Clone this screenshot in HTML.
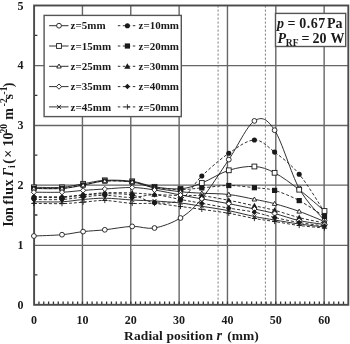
<!DOCTYPE html>
<html><head><meta charset="utf-8"><style>
html,body{margin:0;padding:0;background:#fff;width:350px;height:344px;overflow:hidden;font-family:"Liberation Serif",serif;}
svg{display:block;filter:grayscale(1);}
</style></head><body>
<svg width="350" height="344" viewBox="0 0 350 344"><line x1="82.44" y1="5.50" x2="82.44" y2="304.80" stroke="#666" stroke-width="1.4"/>
<line x1="130.78" y1="5.50" x2="130.78" y2="304.80" stroke="#666" stroke-width="1.4"/>
<line x1="179.12" y1="5.50" x2="179.12" y2="304.80" stroke="#666" stroke-width="1.4"/>
<line x1="227.46" y1="5.50" x2="227.46" y2="304.80" stroke="#666" stroke-width="1.4"/>
<line x1="275.80" y1="5.50" x2="275.80" y2="304.80" stroke="#666" stroke-width="1.4"/>
<line x1="324.14" y1="5.50" x2="324.14" y2="304.80" stroke="#666" stroke-width="1.4"/>
<line x1="34.10" y1="65.60" x2="348.31" y2="65.60" stroke="#666" stroke-width="1.4"/>
<line x1="34.10" y1="125.50" x2="348.31" y2="125.50" stroke="#666" stroke-width="1.4"/>
<line x1="34.10" y1="185.10" x2="348.31" y2="185.10" stroke="#666" stroke-width="1.4"/>
<line x1="34.10" y1="245.40" x2="348.31" y2="245.40" stroke="#666" stroke-width="1.4"/>
<line x1="218.10" y1="5.50" x2="218.10" y2="304.80" stroke="#777" stroke-width="0.9" stroke-dasharray="2.2,1.8"/>
<line x1="265.40" y1="5.50" x2="265.40" y2="304.80" stroke="#777" stroke-width="0.9" stroke-dasharray="2.2,1.8"/>
<path d="M38.93,304.80V301.50M43.77,304.80V301.50M48.60,304.80V301.50M53.44,304.80V301.50M58.27,304.80V301.50M63.10,304.80V301.50M67.94,304.80V301.50M72.77,304.80V301.50M77.61,304.80V301.50M82.44,304.80V301.50M87.27,304.80V301.50M92.11,304.80V301.50M96.94,304.80V301.50M101.78,304.80V301.50M106.61,304.80V301.50M111.44,304.80V301.50M116.28,304.80V301.50M121.11,304.80V301.50M125.95,304.80V301.50M130.78,304.80V301.50M135.61,304.80V301.50M140.45,304.80V301.50M145.28,304.80V301.50M150.12,304.80V301.50M154.95,304.80V301.50M159.78,304.80V301.50M164.62,304.80V301.50M169.45,304.80V301.50M174.29,304.80V301.50M179.12,304.80V301.50M183.95,304.80V301.50M188.79,304.80V301.50M193.62,304.80V301.50M198.46,304.80V301.50M203.29,304.80V301.50M208.12,304.80V301.50M212.96,304.80V301.50M217.79,304.80V301.50M222.63,304.80V301.50M227.46,304.80V301.50M232.29,304.80V301.50M237.13,304.80V301.50M241.96,304.80V301.50M246.80,304.80V301.50M251.63,304.80V301.50M256.46,304.80V301.50M261.30,304.80V301.50M266.13,304.80V301.50M270.97,304.80V301.50M275.80,304.80V301.50M280.63,304.80V301.50M285.47,304.80V301.50M290.30,304.80V301.50M295.14,304.80V301.50M299.97,304.80V301.50M304.80,304.80V301.50M309.64,304.80V301.50M314.47,304.80V301.50M319.31,304.80V301.50M324.14,304.80V301.50M328.97,304.80V301.50M333.81,304.80V301.50M338.64,304.80V301.50M343.48,304.80V301.50M34.10,274.87H37.40M34.10,215.01H37.40M34.10,155.15H37.40M34.10,95.29H37.40M34.10,35.43H37.40" stroke="#333" stroke-width="1.3"/>
<rect x="34.10" y="5.50" width="314.21" height="299.30" fill="none" stroke="#4a4a4a" stroke-width="1.9"/>
<path d="M33.90,236.00 C38.58,235.78 53.80,235.43 62.00,234.70 C70.20,233.97 75.97,232.42 83.10,231.60 C90.23,230.78 96.62,230.67 104.80,229.80 C112.98,228.93 123.92,226.70 132.20,226.40 C140.48,226.10 146.45,229.40 154.50,228.00 C162.55,226.60 172.62,222.90 180.50,218.00 C188.38,213.10 193.75,208.33 201.80,198.60 C209.85,188.87 220.03,172.55 228.80,159.60 C237.57,146.65 246.77,125.80 254.40,120.90 C262.03,116.00 267.13,118.93 274.60,130.20 C282.07,141.47 290.88,173.45 299.20,188.50 C307.52,203.55 320.28,215.17 324.50,220.50" fill="none" stroke="#1a1a1a" stroke-width="0.9"/>
<path d="M33.90,197.20 C38.58,197.25 53.80,197.83 62.00,197.50 C70.20,197.17 75.97,195.82 83.10,195.20 C90.23,194.58 96.62,193.83 104.80,193.80 C112.98,193.77 123.92,193.55 132.20,195.00 C140.48,196.45 146.45,201.72 154.50,202.50 C162.55,203.28 172.62,204.12 180.50,199.70 C188.38,195.28 193.75,183.73 201.80,176.00 C209.85,168.27 220.03,159.30 228.80,153.30 C237.57,147.30 246.77,140.20 254.40,140.00 C262.03,139.80 267.13,146.40 274.60,152.10 C282.07,157.80 290.88,164.22 299.20,174.20 C307.52,184.18 320.28,205.70 324.50,212.00" fill="none" stroke="#1a1a1a" stroke-width="0.9" stroke-dasharray="3,2"/>
<path d="M33.90,187.30 C38.58,187.30 53.80,187.88 62.00,187.30 C70.20,186.72 75.97,184.97 83.10,183.80 C90.23,182.63 96.62,180.72 104.80,180.30 C112.98,179.88 123.92,180.22 132.20,181.30 C140.48,182.38 146.45,185.55 154.50,186.80 C162.55,188.05 172.62,189.43 180.50,188.80 C188.38,188.17 193.75,186.08 201.80,183.00 C209.85,179.92 220.03,173.05 228.80,170.30 C237.57,167.55 246.77,166.08 254.40,166.50 C262.03,166.92 267.13,168.93 274.60,172.80 C282.07,176.67 290.88,183.33 299.20,189.70 C307.52,196.07 320.28,207.45 324.50,211.00" fill="none" stroke="#1a1a1a" stroke-width="0.9"/>
<path d="M33.90,188.30 C38.58,188.30 53.80,188.85 62.00,188.30 C70.20,187.75 75.97,186.22 83.10,185.00 C90.23,183.78 96.62,181.50 104.80,181.00 C112.98,180.50 123.92,180.92 132.20,182.00 C140.48,183.08 146.45,186.25 154.50,187.50 C162.55,188.75 172.62,189.43 180.50,189.50 C188.38,189.57 193.75,188.57 201.80,187.90 C209.85,187.23 220.03,185.53 228.80,185.50 C237.57,185.47 246.77,186.88 254.40,187.70 C262.03,188.52 267.13,188.25 274.60,190.40 C282.07,192.55 290.88,196.25 299.20,200.60 C307.52,204.95 320.28,213.85 324.50,216.50" fill="none" stroke="#1a1a1a" stroke-width="0.9" stroke-dasharray="3,2"/>
<path d="M33.90,188.50 C38.58,188.50 53.80,189.05 62.00,188.50 C70.20,187.95 75.97,186.45 83.10,185.20 C90.23,183.95 96.62,181.53 104.80,181.00 C112.98,180.47 123.92,180.83 132.20,182.00 C140.48,183.17 146.45,186.38 154.50,188.00 C162.55,189.62 172.62,190.83 180.50,191.70 C188.38,192.57 193.75,192.73 201.80,193.20 C209.85,193.67 220.03,193.48 228.80,194.50 C237.57,195.52 246.77,197.77 254.40,199.30 C262.03,200.83 267.13,201.68 274.60,203.70 C282.07,205.72 290.88,208.43 299.20,211.40 C307.52,214.37 320.28,219.82 324.50,221.50" fill="none" stroke="#1a1a1a" stroke-width="0.9"/>
<path d="M33.90,196.70 C38.58,196.70 53.80,197.02 62.00,196.70 C70.20,196.38 75.97,195.45 83.10,194.80 C90.23,194.15 96.62,193.10 104.80,192.80 C112.98,192.50 123.92,192.72 132.20,193.00 C140.48,193.28 146.45,194.08 154.50,194.50 C162.55,194.92 172.62,195.28 180.50,195.50 C188.38,195.72 193.75,195.00 201.80,195.80 C209.85,196.60 220.03,198.63 228.80,200.30 C237.57,201.97 246.77,204.13 254.40,205.80 C262.03,207.47 267.13,208.33 274.60,210.30 C282.07,212.27 290.88,215.48 299.20,217.60 C307.52,219.72 320.28,222.10 324.50,223.00" fill="none" stroke="#1a1a1a" stroke-width="0.9" stroke-dasharray="3,2"/>
<path d="M33.90,192.20 C38.58,192.20 53.80,192.50 62.00,192.20 C70.20,191.90 75.97,190.93 83.10,190.40 C90.23,189.87 96.62,189.48 104.80,189.00 C112.98,188.52 123.92,187.33 132.20,187.50 C140.48,187.67 146.45,188.75 154.50,190.00 C162.55,191.25 172.62,193.52 180.50,195.00 C188.38,196.48 193.75,197.45 201.80,198.90 C209.85,200.35 220.03,202.02 228.80,203.70 C237.57,205.38 246.77,207.37 254.40,209.00 C262.03,210.63 267.13,211.57 274.60,213.50 C282.07,215.43 290.88,218.77 299.20,220.60 C307.52,222.43 320.28,223.85 324.50,224.50" fill="none" stroke="#1a1a1a" stroke-width="0.9"/>
<path d="M33.90,199.50 C38.58,199.50 53.80,199.92 62.00,199.50 C70.20,199.08 75.97,197.70 83.10,197.00 C90.23,196.30 96.62,195.22 104.80,195.30 C112.98,195.38 123.92,197.58 132.20,197.50 C140.48,197.42 146.45,194.47 154.50,194.80 C162.55,195.13 172.62,198.08 180.50,199.50 C188.38,200.92 193.75,201.87 201.80,203.30 C209.85,204.73 220.03,206.62 228.80,208.10 C237.57,209.58 246.77,210.63 254.40,212.20 C262.03,213.77 267.13,215.78 274.60,217.50 C282.07,219.22 290.88,221.08 299.20,222.50 C307.52,223.92 320.28,225.42 324.50,226.00" fill="none" stroke="#1a1a1a" stroke-width="0.9" stroke-dasharray="3,2"/>
<path d="M33.90,201.80 C38.58,201.80 53.80,202.18 62.00,201.80 C70.20,201.42 75.97,200.10 83.10,199.50 C90.23,198.90 96.62,198.12 104.80,198.20 C112.98,198.28 123.92,199.53 132.20,200.00 C140.48,200.47 146.45,200.50 154.50,201.00 C162.55,201.50 172.62,202.12 180.50,203.00 C188.38,203.88 193.75,205.02 201.80,206.30 C209.85,207.58 220.03,209.00 228.80,210.70 C237.57,212.40 246.77,214.95 254.40,216.50 C262.03,218.05 267.13,218.75 274.60,220.00 C282.07,221.25 290.88,222.83 299.20,224.00 C307.52,225.17 320.28,226.50 324.50,227.00" fill="none" stroke="#1a1a1a" stroke-width="0.9"/>
<path d="M33.90,203.40 C38.58,203.43 53.80,203.80 62.00,203.60 C70.20,203.40 75.97,202.72 83.10,202.20 C90.23,201.68 96.62,200.30 104.80,200.50 C112.98,200.70 123.92,202.90 132.20,203.40 C140.48,203.90 146.45,202.98 154.50,203.50 C162.55,204.02 172.62,205.52 180.50,206.50 C188.38,207.48 193.75,208.27 201.80,209.40 C209.85,210.53 220.03,211.78 228.80,213.30 C237.57,214.82 246.77,217.13 254.40,218.50 C262.03,219.87 267.13,220.33 274.60,221.50 C282.07,222.67 290.88,224.42 299.20,225.50 C307.52,226.58 320.28,227.58 324.50,228.00" fill="none" stroke="#1a1a1a" stroke-width="0.9" stroke-dasharray="3,2"/>
<circle cx="33.90" cy="236.00" r="2.40" fill="#fff" stroke="#1a1a1a" stroke-width="0.9"/>
<circle cx="62.00" cy="234.70" r="2.40" fill="#fff" stroke="#1a1a1a" stroke-width="0.9"/>
<circle cx="83.10" cy="231.60" r="2.40" fill="#fff" stroke="#1a1a1a" stroke-width="0.9"/>
<circle cx="104.80" cy="229.80" r="2.40" fill="#fff" stroke="#1a1a1a" stroke-width="0.9"/>
<circle cx="132.20" cy="226.40" r="2.40" fill="#fff" stroke="#1a1a1a" stroke-width="0.9"/>
<circle cx="154.50" cy="228.00" r="2.40" fill="#fff" stroke="#1a1a1a" stroke-width="0.9"/>
<circle cx="180.50" cy="218.00" r="2.40" fill="#fff" stroke="#1a1a1a" stroke-width="0.9"/>
<circle cx="201.80" cy="198.60" r="2.40" fill="#fff" stroke="#1a1a1a" stroke-width="0.9"/>
<circle cx="228.80" cy="159.60" r="2.40" fill="#fff" stroke="#1a1a1a" stroke-width="0.9"/>
<circle cx="254.40" cy="120.90" r="2.40" fill="#fff" stroke="#1a1a1a" stroke-width="0.9"/>
<circle cx="274.60" cy="130.20" r="2.40" fill="#fff" stroke="#1a1a1a" stroke-width="0.9"/>
<circle cx="299.20" cy="188.50" r="2.40" fill="#fff" stroke="#1a1a1a" stroke-width="0.9"/>
<circle cx="324.50" cy="220.50" r="2.40" fill="#fff" stroke="#1a1a1a" stroke-width="0.9"/>
<circle cx="33.90" cy="197.20" r="2.55" fill="#1a1a1a"/>
<circle cx="62.00" cy="197.50" r="2.55" fill="#1a1a1a"/>
<circle cx="83.10" cy="195.20" r="2.55" fill="#1a1a1a"/>
<circle cx="104.80" cy="193.80" r="2.55" fill="#1a1a1a"/>
<circle cx="132.20" cy="195.00" r="2.55" fill="#1a1a1a"/>
<circle cx="154.50" cy="202.50" r="2.55" fill="#1a1a1a"/>
<circle cx="180.50" cy="199.70" r="2.55" fill="#1a1a1a"/>
<circle cx="201.80" cy="176.00" r="2.55" fill="#1a1a1a"/>
<circle cx="228.80" cy="153.30" r="2.55" fill="#1a1a1a"/>
<circle cx="254.40" cy="140.00" r="2.55" fill="#1a1a1a"/>
<circle cx="274.60" cy="152.10" r="2.55" fill="#1a1a1a"/>
<circle cx="299.20" cy="174.20" r="2.55" fill="#1a1a1a"/>
<circle cx="324.50" cy="212.00" r="2.55" fill="#1a1a1a"/>
<rect x="31.50" y="184.90" width="4.80" height="4.80" fill="#fff" stroke="#1a1a1a" stroke-width="0.9"/>
<rect x="59.60" y="184.90" width="4.80" height="4.80" fill="#fff" stroke="#1a1a1a" stroke-width="0.9"/>
<rect x="80.70" y="181.40" width="4.80" height="4.80" fill="#fff" stroke="#1a1a1a" stroke-width="0.9"/>
<rect x="102.40" y="177.90" width="4.80" height="4.80" fill="#fff" stroke="#1a1a1a" stroke-width="0.9"/>
<rect x="129.80" y="178.90" width="4.80" height="4.80" fill="#fff" stroke="#1a1a1a" stroke-width="0.9"/>
<rect x="152.10" y="184.40" width="4.80" height="4.80" fill="#fff" stroke="#1a1a1a" stroke-width="0.9"/>
<rect x="178.10" y="186.40" width="4.80" height="4.80" fill="#fff" stroke="#1a1a1a" stroke-width="0.9"/>
<rect x="199.40" y="180.60" width="4.80" height="4.80" fill="#fff" stroke="#1a1a1a" stroke-width="0.9"/>
<rect x="226.40" y="167.90" width="4.80" height="4.80" fill="#fff" stroke="#1a1a1a" stroke-width="0.9"/>
<rect x="252.00" y="164.10" width="4.80" height="4.80" fill="#fff" stroke="#1a1a1a" stroke-width="0.9"/>
<rect x="272.20" y="170.40" width="4.80" height="4.80" fill="#fff" stroke="#1a1a1a" stroke-width="0.9"/>
<rect x="296.80" y="187.30" width="4.80" height="4.80" fill="#fff" stroke="#1a1a1a" stroke-width="0.9"/>
<rect x="322.10" y="208.60" width="4.80" height="4.80" fill="#fff" stroke="#1a1a1a" stroke-width="0.9"/>
<rect x="31.30" y="185.70" width="5.20" height="5.20" fill="#1a1a1a"/>
<rect x="59.40" y="185.70" width="5.20" height="5.20" fill="#1a1a1a"/>
<rect x="80.50" y="182.40" width="5.20" height="5.20" fill="#1a1a1a"/>
<rect x="102.20" y="178.40" width="5.20" height="5.20" fill="#1a1a1a"/>
<rect x="129.60" y="179.40" width="5.20" height="5.20" fill="#1a1a1a"/>
<rect x="151.90" y="184.90" width="5.20" height="5.20" fill="#1a1a1a"/>
<rect x="177.90" y="186.90" width="5.20" height="5.20" fill="#1a1a1a"/>
<rect x="199.20" y="185.30" width="5.20" height="5.20" fill="#1a1a1a"/>
<rect x="226.20" y="182.90" width="5.20" height="5.20" fill="#1a1a1a"/>
<rect x="251.80" y="185.10" width="5.20" height="5.20" fill="#1a1a1a"/>
<rect x="272.00" y="187.80" width="5.20" height="5.20" fill="#1a1a1a"/>
<rect x="296.60" y="198.00" width="5.20" height="5.20" fill="#1a1a1a"/>
<rect x="321.90" y="213.90" width="5.20" height="5.20" fill="#1a1a1a"/>
<path d="M33.90,186.22 L36.18,190.21 L31.62,190.21 Z" fill="#fff" stroke="#1a1a1a" stroke-width="0.9"/>
<path d="M62.00,186.22 L64.28,190.21 L59.72,190.21 Z" fill="#fff" stroke="#1a1a1a" stroke-width="0.9"/>
<path d="M83.10,182.92 L85.38,186.91 L80.82,186.91 Z" fill="#fff" stroke="#1a1a1a" stroke-width="0.9"/>
<path d="M104.80,178.72 L107.08,182.71 L102.52,182.71 Z" fill="#fff" stroke="#1a1a1a" stroke-width="0.9"/>
<path d="M132.20,179.72 L134.48,183.71 L129.92,183.71 Z" fill="#fff" stroke="#1a1a1a" stroke-width="0.9"/>
<path d="M154.50,185.72 L156.78,189.71 L152.22,189.71 Z" fill="#fff" stroke="#1a1a1a" stroke-width="0.9"/>
<path d="M180.50,189.42 L182.78,193.41 L178.22,193.41 Z" fill="#fff" stroke="#1a1a1a" stroke-width="0.9"/>
<path d="M201.80,190.92 L204.08,194.91 L199.52,194.91 Z" fill="#fff" stroke="#1a1a1a" stroke-width="0.9"/>
<path d="M228.80,192.22 L231.08,196.21 L226.52,196.21 Z" fill="#fff" stroke="#1a1a1a" stroke-width="0.9"/>
<path d="M254.40,197.02 L256.68,201.01 L252.12,201.01 Z" fill="#fff" stroke="#1a1a1a" stroke-width="0.9"/>
<path d="M274.60,201.42 L276.88,205.41 L272.32,205.41 Z" fill="#fff" stroke="#1a1a1a" stroke-width="0.9"/>
<path d="M299.20,209.12 L301.48,213.11 L296.92,213.11 Z" fill="#fff" stroke="#1a1a1a" stroke-width="0.9"/>
<path d="M324.50,219.22 L326.78,223.21 L322.22,223.21 Z" fill="#fff" stroke="#1a1a1a" stroke-width="0.9"/>
<path d="M33.90,193.58 L37.02,199.04 L30.78,199.04 Z" fill="#1a1a1a"/>
<path d="M62.00,193.58 L65.12,199.04 L58.88,199.04 Z" fill="#1a1a1a"/>
<path d="M83.10,191.68 L86.22,197.14 L79.98,197.14 Z" fill="#1a1a1a"/>
<path d="M104.80,189.68 L107.92,195.14 L101.68,195.14 Z" fill="#1a1a1a"/>
<path d="M132.20,189.88 L135.32,195.34 L129.08,195.34 Z" fill="#1a1a1a"/>
<path d="M154.50,191.38 L157.62,196.84 L151.38,196.84 Z" fill="#1a1a1a"/>
<path d="M180.50,192.38 L183.62,197.84 L177.38,197.84 Z" fill="#1a1a1a"/>
<path d="M201.80,192.68 L204.92,198.14 L198.68,198.14 Z" fill="#1a1a1a"/>
<path d="M228.80,197.18 L231.92,202.64 L225.68,202.64 Z" fill="#1a1a1a"/>
<path d="M254.40,202.68 L257.52,208.14 L251.28,208.14 Z" fill="#1a1a1a"/>
<path d="M274.60,207.18 L277.72,212.64 L271.48,212.64 Z" fill="#1a1a1a"/>
<path d="M299.20,214.48 L302.32,219.94 L296.08,219.94 Z" fill="#1a1a1a"/>
<path d="M324.50,219.88 L327.62,225.34 L321.38,225.34 Z" fill="#1a1a1a"/>
<path d="M33.90,189.56 L36.54,192.20 L33.90,194.84 L31.26,192.20 Z" fill="#fff" stroke="#1a1a1a" stroke-width="0.9"/>
<path d="M62.00,189.56 L64.64,192.20 L62.00,194.84 L59.36,192.20 Z" fill="#fff" stroke="#1a1a1a" stroke-width="0.9"/>
<path d="M83.10,187.76 L85.74,190.40 L83.10,193.04 L80.46,190.40 Z" fill="#fff" stroke="#1a1a1a" stroke-width="0.9"/>
<path d="M104.80,186.36 L107.44,189.00 L104.80,191.64 L102.16,189.00 Z" fill="#fff" stroke="#1a1a1a" stroke-width="0.9"/>
<path d="M132.20,184.86 L134.84,187.50 L132.20,190.14 L129.56,187.50 Z" fill="#fff" stroke="#1a1a1a" stroke-width="0.9"/>
<path d="M154.50,187.36 L157.14,190.00 L154.50,192.64 L151.86,190.00 Z" fill="#fff" stroke="#1a1a1a" stroke-width="0.9"/>
<path d="M180.50,192.36 L183.14,195.00 L180.50,197.64 L177.86,195.00 Z" fill="#fff" stroke="#1a1a1a" stroke-width="0.9"/>
<path d="M201.80,196.26 L204.44,198.90 L201.80,201.54 L199.16,198.90 Z" fill="#fff" stroke="#1a1a1a" stroke-width="0.9"/>
<path d="M228.80,201.06 L231.44,203.70 L228.80,206.34 L226.16,203.70 Z" fill="#fff" stroke="#1a1a1a" stroke-width="0.9"/>
<path d="M254.40,206.36 L257.04,209.00 L254.40,211.64 L251.76,209.00 Z" fill="#fff" stroke="#1a1a1a" stroke-width="0.9"/>
<path d="M274.60,210.86 L277.24,213.50 L274.60,216.14 L271.96,213.50 Z" fill="#fff" stroke="#1a1a1a" stroke-width="0.9"/>
<path d="M299.20,217.96 L301.84,220.60 L299.20,223.24 L296.56,220.60 Z" fill="#fff" stroke="#1a1a1a" stroke-width="0.9"/>
<path d="M324.50,221.86 L327.14,224.50 L324.50,227.14 L321.86,224.50 Z" fill="#fff" stroke="#1a1a1a" stroke-width="0.9"/>
<path d="M33.90,196.74 L36.66,199.50 L33.90,202.26 L31.14,199.50 Z" fill="#1a1a1a"/>
<path d="M62.00,196.74 L64.76,199.50 L62.00,202.26 L59.24,199.50 Z" fill="#1a1a1a"/>
<path d="M83.10,194.24 L85.86,197.00 L83.10,199.76 L80.34,197.00 Z" fill="#1a1a1a"/>
<path d="M104.80,192.54 L107.56,195.30 L104.80,198.06 L102.04,195.30 Z" fill="#1a1a1a"/>
<path d="M132.20,194.74 L134.96,197.50 L132.20,200.26 L129.44,197.50 Z" fill="#1a1a1a"/>
<path d="M154.50,192.04 L157.26,194.80 L154.50,197.56 L151.74,194.80 Z" fill="#1a1a1a"/>
<path d="M180.50,196.74 L183.26,199.50 L180.50,202.26 L177.74,199.50 Z" fill="#1a1a1a"/>
<path d="M201.80,200.54 L204.56,203.30 L201.80,206.06 L199.04,203.30 Z" fill="#1a1a1a"/>
<path d="M228.80,205.34 L231.56,208.10 L228.80,210.86 L226.04,208.10 Z" fill="#1a1a1a"/>
<path d="M254.40,209.44 L257.16,212.20 L254.40,214.96 L251.64,212.20 Z" fill="#1a1a1a"/>
<path d="M274.60,214.74 L277.36,217.50 L274.60,220.26 L271.84,217.50 Z" fill="#1a1a1a"/>
<path d="M299.20,219.74 L301.96,222.50 L299.20,225.26 L296.44,222.50 Z" fill="#1a1a1a"/>
<path d="M324.50,223.24 L327.26,226.00 L324.50,228.76 L321.74,226.00 Z" fill="#1a1a1a"/>
<path d="M31.86,199.76 L35.94,203.84 M31.86,203.84 L35.94,199.76" stroke="#1a1a1a" stroke-width="0.9"/>
<path d="M59.96,199.76 L64.04,203.84 M59.96,203.84 L64.04,199.76" stroke="#1a1a1a" stroke-width="0.9"/>
<path d="M81.06,197.46 L85.14,201.54 M81.06,201.54 L85.14,197.46" stroke="#1a1a1a" stroke-width="0.9"/>
<path d="M102.76,196.16 L106.84,200.24 M102.76,200.24 L106.84,196.16" stroke="#1a1a1a" stroke-width="0.9"/>
<path d="M130.16,197.96 L134.24,202.04 M130.16,202.04 L134.24,197.96" stroke="#1a1a1a" stroke-width="0.9"/>
<path d="M152.46,198.96 L156.54,203.04 M152.46,203.04 L156.54,198.96" stroke="#1a1a1a" stroke-width="0.9"/>
<path d="M178.46,200.96 L182.54,205.04 M178.46,205.04 L182.54,200.96" stroke="#1a1a1a" stroke-width="0.9"/>
<path d="M199.76,204.26 L203.84,208.34 M199.76,208.34 L203.84,204.26" stroke="#1a1a1a" stroke-width="0.9"/>
<path d="M226.76,208.66 L230.84,212.74 M226.76,212.74 L230.84,208.66" stroke="#1a1a1a" stroke-width="0.9"/>
<path d="M252.36,214.46 L256.44,218.54 M252.36,218.54 L256.44,214.46" stroke="#1a1a1a" stroke-width="0.9"/>
<path d="M272.56,217.96 L276.64,222.04 M272.56,222.04 L276.64,217.96" stroke="#1a1a1a" stroke-width="0.9"/>
<path d="M297.16,221.96 L301.24,226.04 M297.16,226.04 L301.24,221.96" stroke="#1a1a1a" stroke-width="0.9"/>
<path d="M322.46,224.96 L326.54,229.04 M322.46,229.04 L326.54,224.96" stroke="#1a1a1a" stroke-width="0.9"/>
<path d="M31.26,203.40 L36.54,203.40 M33.90,200.76 L33.90,206.04" stroke="#1a1a1a" stroke-width="0.9"/>
<path d="M59.36,203.60 L64.64,203.60 M62.00,200.96 L62.00,206.24" stroke="#1a1a1a" stroke-width="0.9"/>
<path d="M80.46,202.20 L85.74,202.20 M83.10,199.56 L83.10,204.84" stroke="#1a1a1a" stroke-width="0.9"/>
<path d="M102.16,200.50 L107.44,200.50 M104.80,197.86 L104.80,203.14" stroke="#1a1a1a" stroke-width="0.9"/>
<path d="M129.56,203.40 L134.84,203.40 M132.20,200.76 L132.20,206.04" stroke="#1a1a1a" stroke-width="0.9"/>
<path d="M151.86,203.50 L157.14,203.50 M154.50,200.86 L154.50,206.14" stroke="#1a1a1a" stroke-width="0.9"/>
<path d="M177.86,206.50 L183.14,206.50 M180.50,203.86 L180.50,209.14" stroke="#1a1a1a" stroke-width="0.9"/>
<path d="M199.16,209.40 L204.44,209.40 M201.80,206.76 L201.80,212.04" stroke="#1a1a1a" stroke-width="0.9"/>
<path d="M226.16,213.30 L231.44,213.30 M228.80,210.66 L228.80,215.94" stroke="#1a1a1a" stroke-width="0.9"/>
<path d="M251.76,218.50 L257.04,218.50 M254.40,215.86 L254.40,221.14" stroke="#1a1a1a" stroke-width="0.9"/>
<path d="M271.96,221.50 L277.24,221.50 M274.60,218.86 L274.60,224.14" stroke="#1a1a1a" stroke-width="0.9"/>
<path d="M296.56,225.50 L301.84,225.50 M299.20,222.86 L299.20,228.14" stroke="#1a1a1a" stroke-width="0.9"/>
<path d="M321.86,228.00 L327.14,228.00 M324.50,225.36 L324.50,230.64" stroke="#1a1a1a" stroke-width="0.9"/>
<rect x="44.10" y="15.40" width="137.20" height="101.20" fill="#fff" stroke="#555" stroke-width="1.4"/>
<line x1="49.1" y1="25.70" x2="68.5" y2="25.70" stroke="#1a1a1a" stroke-width="0.9"/>
<circle cx="59.00" cy="25.70" r="2.40" fill="#fff" stroke="#1a1a1a" stroke-width="0.9"/>
<text x="70.6" y="29.40" font-family="Liberation Serif" font-weight="bold" font-size="11" fill="#1a1a1a">z=5mm</text>
<line x1="117.8" y1="25.70" x2="136" y2="25.70" stroke="#1a1a1a" stroke-width="0.9" stroke-dasharray="2.5,2.5"/>
<circle cx="127.40" cy="25.70" r="2.55" fill="#1a1a1a"/>
<text x="138.5" y="29.40" font-family="Liberation Serif" font-weight="bold" font-size="11" fill="#1a1a1a">z=10mm</text>
<line x1="49.1" y1="46.00" x2="68.5" y2="46.00" stroke="#1a1a1a" stroke-width="0.9"/>
<rect x="56.60" y="43.60" width="4.80" height="4.80" fill="#fff" stroke="#1a1a1a" stroke-width="0.9"/>
<text x="70.6" y="49.70" font-family="Liberation Serif" font-weight="bold" font-size="11" fill="#1a1a1a">z=15mm</text>
<line x1="117.8" y1="46.00" x2="136" y2="46.00" stroke="#1a1a1a" stroke-width="0.9" stroke-dasharray="2.5,2.5"/>
<rect x="124.80" y="43.40" width="5.20" height="5.20" fill="#1a1a1a"/>
<text x="138.5" y="49.70" font-family="Liberation Serif" font-weight="bold" font-size="11" fill="#1a1a1a">z=20mm</text>
<line x1="49.1" y1="66.30" x2="68.5" y2="66.30" stroke="#1a1a1a" stroke-width="0.9"/>
<path d="M59.00,64.02 L61.28,68.01 L56.72,68.01 Z" fill="#fff" stroke="#1a1a1a" stroke-width="0.9"/>
<text x="70.6" y="70.00" font-family="Liberation Serif" font-weight="bold" font-size="11" fill="#1a1a1a">z=25mm</text>
<line x1="117.8" y1="66.30" x2="136" y2="66.30" stroke="#1a1a1a" stroke-width="0.9" stroke-dasharray="2.5,2.5"/>
<path d="M127.40,63.18 L130.52,68.64 L124.28,68.64 Z" fill="#1a1a1a"/>
<text x="138.5" y="70.00" font-family="Liberation Serif" font-weight="bold" font-size="11" fill="#1a1a1a">z=30mm</text>
<line x1="49.1" y1="86.60" x2="68.5" y2="86.60" stroke="#1a1a1a" stroke-width="0.9"/>
<path d="M59.00,83.96 L61.64,86.60 L59.00,89.24 L56.36,86.60 Z" fill="#fff" stroke="#1a1a1a" stroke-width="0.9"/>
<text x="70.6" y="90.30" font-family="Liberation Serif" font-weight="bold" font-size="11" fill="#1a1a1a">z=35mm</text>
<line x1="117.8" y1="86.60" x2="136" y2="86.60" stroke="#1a1a1a" stroke-width="0.9" stroke-dasharray="2.5,2.5"/>
<path d="M127.40,83.84 L130.16,86.60 L127.40,89.36 L124.64,86.60 Z" fill="#1a1a1a"/>
<text x="138.5" y="90.30" font-family="Liberation Serif" font-weight="bold" font-size="11" fill="#1a1a1a">z=40mm</text>
<line x1="49.1" y1="106.90" x2="68.5" y2="106.90" stroke="#1a1a1a" stroke-width="0.9"/>
<path d="M56.96,104.86 L61.04,108.94 M56.96,108.94 L61.04,104.86" stroke="#1a1a1a" stroke-width="0.9"/>
<text x="70.6" y="110.60" font-family="Liberation Serif" font-weight="bold" font-size="11" fill="#1a1a1a">z=45mm</text>
<line x1="117.8" y1="106.90" x2="136" y2="106.90" stroke="#1a1a1a" stroke-width="0.9" stroke-dasharray="2.5,2.5"/>
<path d="M124.76,106.90 L130.04,106.90 M127.40,104.26 L127.40,109.54" stroke="#1a1a1a" stroke-width="0.9"/>
<text x="138.5" y="110.60" font-family="Liberation Serif" font-weight="bold" font-size="11" fill="#1a1a1a">z=50mm</text>
<rect x="275.5" y="13.4" width="70.2" height="33.1" fill="#fff" stroke="#555" stroke-width="1.4"/>
<text x="277.00" y="27.50" font-family="Liberation Serif" font-weight="bold" font-size="14" font-style="italic" fill="#1a1a1a">p</text>
<text x="287.50" y="27.50" font-family="Liberation Serif" font-weight="bold" font-size="14" fill="#1a1a1a">=</text>
<text x="299.30" y="27.50" font-family="Liberation Serif" font-weight="bold" font-size="14" fill="#1a1a1a" letter-spacing="0.5">0.67</text>
<text x="327.00" y="27.50" font-family="Liberation Serif" font-weight="bold" font-size="14" fill="#1a1a1a">Pa</text>
<text x="277.50" y="43.10" font-family="Liberation Serif" font-weight="bold" font-size="14" font-style="italic" fill="#1a1a1a">P</text>
<text x="285.80" y="46.00" font-family="Liberation Serif" font-weight="bold" font-size="9.5" fill="#1a1a1a">RF</text>
<text x="301.60" y="43.10" font-family="Liberation Serif" font-weight="bold" font-size="14" fill="#1a1a1a">=</text>
<text x="312.50" y="43.10" font-family="Liberation Serif" font-weight="bold" font-size="14" fill="#1a1a1a">20</text>
<text x="330.60" y="43.10" font-family="Liberation Serif" font-weight="bold" font-size="14" fill="#1a1a1a">W</text>
<text x="23.5" y="308.90" font-family="Liberation Serif" font-weight="bold" font-size="12" text-anchor="end" fill="#1a1a1a">0</text>
<text x="23.5" y="249.04" font-family="Liberation Serif" font-weight="bold" font-size="12" text-anchor="end" fill="#1a1a1a">1</text>
<text x="23.5" y="189.18" font-family="Liberation Serif" font-weight="bold" font-size="12" text-anchor="end" fill="#1a1a1a">2</text>
<text x="23.5" y="129.32" font-family="Liberation Serif" font-weight="bold" font-size="12" text-anchor="end" fill="#1a1a1a">3</text>
<text x="23.5" y="69.46" font-family="Liberation Serif" font-weight="bold" font-size="12" text-anchor="end" fill="#1a1a1a">4</text>
<text x="23.5" y="9.60" font-family="Liberation Serif" font-weight="bold" font-size="12" text-anchor="end" fill="#1a1a1a">5</text>
<text x="34.10" y="323.6" font-family="Liberation Serif" font-weight="bold" font-size="12" text-anchor="middle" fill="#1a1a1a">0</text>
<text x="82.44" y="323.6" font-family="Liberation Serif" font-weight="bold" font-size="12" text-anchor="middle" fill="#1a1a1a">10</text>
<text x="130.78" y="323.6" font-family="Liberation Serif" font-weight="bold" font-size="12" text-anchor="middle" fill="#1a1a1a">20</text>
<text x="179.12" y="323.6" font-family="Liberation Serif" font-weight="bold" font-size="12" text-anchor="middle" fill="#1a1a1a">30</text>
<text x="227.46" y="323.6" font-family="Liberation Serif" font-weight="bold" font-size="12" text-anchor="middle" fill="#1a1a1a">40</text>
<text x="275.80" y="323.6" font-family="Liberation Serif" font-weight="bold" font-size="12" text-anchor="middle" fill="#1a1a1a">50</text>
<text x="324.14" y="323.6" font-family="Liberation Serif" font-weight="bold" font-size="12" text-anchor="middle" fill="#1a1a1a">60</text>
<text y="339.7" font-family="Liberation Serif" font-weight="bold" font-size="13.5" fill="#1a1a1a"><tspan x="124.1" letter-spacing="0.1">Radial position</tspan><tspan x="216.6" font-style="italic" font-size="14.2">r</tspan><tspan x="227.2">(mm)</tspan></text>
<g transform="translate(13.00,0) rotate(-90)"><text x="-226.80" y="0.00" font-family="Liberation Serif" font-weight="bold" font-size="14" letter-spacing="-0.3" fill="#1a1a1a">Ion</text><text x="-204.60" y="0.00" font-family="Liberation Serif" font-weight="bold" font-size="14" letter-spacing="0.6" fill="#1a1a1a">flux</text><text x="-176.60" y="0.00" font-family="Liberation Serif" font-weight="bold" font-size="14" font-style="italic" fill="#1a1a1a">Γ</text><text x="-168.10" y="2.20" font-family="Liberation Serif" font-weight="bold" font-size="9.5" fill="#1a1a1a">i</text><text x="-163.80" y="0.00" font-family="Liberation Serif" font-weight="bold" font-size="14" fill="#1a1a1a">(</text><text x="-157.70" y="0.00" font-family="Liberation Serif" font-weight="bold" font-size="14" fill="#1a1a1a">×</text><text x="-146.60" y="0.00" font-family="Liberation Serif" font-weight="bold" font-size="14" fill="#1a1a1a">10</text><text x="-133.60" y="-5.60" font-family="Liberation Serif" font-weight="bold" font-size="9.5" fill="#1a1a1a">20</text><text x="-119.80" y="0.00" font-family="Liberation Serif" font-weight="bold" font-size="14" fill="#1a1a1a">m</text><text x="-106.20" y="-5.60" font-family="Liberation Serif" font-weight="bold" font-size="9.5" fill="#1a1a1a">-2</text><text x="-99.60" y="0.00" font-family="Liberation Serif" font-weight="bold" font-size="14" fill="#1a1a1a">s</text><text x="-94.40" y="-5.60" font-family="Liberation Serif" font-weight="bold" font-size="9.5" fill="#1a1a1a">-1</text><text x="-87.20" y="0.00" font-family="Liberation Serif" font-weight="bold" font-size="14" fill="#1a1a1a">)</text></g></svg>
</body></html>
